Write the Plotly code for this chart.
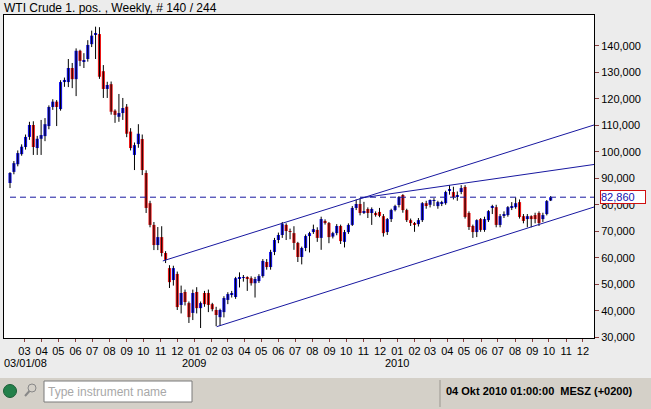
import pandas as pd
import plotly.graph_objects as go

# ---------------- data ----------------
WEEKS = pd.date_range("2008-02-04", periods=140, freq="7D")

OHLC_ROWS = [
    (88.2, 92.3, 86.3, 92.0), (92.4, 96.5, 91.5, 95.7), (95.3, 100.5, 94.5, 99.5), (99.1, 102.8, 98.5, 101.9),
    (101.8, 106.5, 100.8, 105.6), (105.6, 111.3, 104.5, 110.1), (110.1, 111.5, 98.8, 101.8), (101.4, 106.0, 98.8, 104.9),
    (104.9, 112.0, 98.8, 106.3), (105.9, 112.7, 104.0, 110.4), (109.7, 117.5, 108.5, 116.9), (116.9, 119.8, 115.8, 118.9),
    (118.9, 119.5, 109.7, 116.9), (116.1, 127.0, 115.5, 126.3), (126.3, 128.0, 124.5, 127.1), (126.3, 135.0, 124.4, 131.6),
    (131.6, 133.5, 124.0, 127.4), (127.4, 139.0, 121.0, 138.1), (138.1, 138.5, 132.3, 134.3), (134.2, 137.2, 131.6, 134.5),
    (135.0, 142.1, 134.0, 140.3), (140.6, 145.7, 139.5, 143.8), (144.2, 147.2, 135.0, 144.6), (144.4, 147.0, 127.5, 128.3),
    (130.4, 132.7, 120.3, 123.7), (123.7, 126.4, 120.3, 125.2), (125.5, 126.5, 114.0, 115.1), (115.5, 116.0, 110.9, 113.9),
    (113.2, 121.8, 111.3, 114.6), (114.6, 120.3, 112.0, 116.5), (117.0, 118.0, 105.5, 106.8), (107.6, 108.9, 100.5, 101.4),
    (98.8, 103.5, 93.1, 102.5), (102.9, 110.4, 101.5, 106.8), (104.8, 106.5, 91.2, 93.1), (92.0, 93.0, 76.9, 78.8),
    (80.6, 81.5, 71.5, 72.4), (72.4, 73.5, 62.9, 64.8), (64.8, 71.6, 62.9, 67.8), (67.8, 71.9, 60.5, 61.8),
    (61.8, 62.5, 58.0, 59.2), (56.1, 57.2, 48.6, 50.8), (51.6, 57.0, 49.5, 56.1), (53.9, 54.8, 40.3, 41.4),
    (42.2, 49.5, 39.0, 46.7), (47.1, 48.0, 42.0, 43.3), (42.9, 43.5, 35.4, 37.6), (39.2, 48.0, 36.5, 46.7),
    (47.1, 48.9, 39.0, 41.0), (41.0, 43.5, 33.5, 42.9), (46.7, 47.5, 41.5, 42.5), (46.7, 48.0, 39.5, 42.2),
    (42.5, 43.0, 39.8, 40.6), (40.3, 41.5, 34.2, 38.4), (37.6, 40.8, 34.3, 40.3), (39.5, 45.5, 37.5, 44.8),
    (44.1, 47.0, 42.5, 46.3), (46.3, 47.5, 45.0, 46.6), (45.2, 52.8, 44.5, 52.3), (52.3, 54.5, 48.8, 52.6),
    (52.4, 53.5, 51.0, 52.7), (52.5, 53.0, 47.5, 52.2), (52.3, 53.0, 49.5, 50.4), (50.4, 52.8, 45.0, 52.0),
    (51.2, 53.8, 50.5, 53.1), (53.1, 59.5, 52.5, 58.8), (58.4, 59.5, 55.5, 56.5), (56.5, 63.0, 55.5, 62.2),
    (62.2, 67.5, 61.0, 66.7), (66.7, 69.5, 65.5, 68.6), (68.6, 73.5, 67.5, 72.7), (72.4, 73.0, 66.7, 70.1),
    (70.1, 71.0, 67.0, 69.8), (69.3, 71.9, 63.0, 65.6), (65.6, 66.0, 58.4, 60.3), (60.3, 64.2, 57.5, 63.7),
    (63.7, 68.8, 62.5, 68.2), (68.2, 69.8, 62.0, 69.3), (69.7, 72.5, 69.0, 70.8), (70.5, 71.5, 66.0, 67.5),
    (67.5, 75.5, 63.0, 74.6), (73.9, 74.5, 72.5, 73.1), (73.1, 73.5, 65.5, 67.8), (68.0, 69.8, 67.3, 69.3),
    (69.3, 72.7, 68.5, 72.0), (72.0, 72.5, 65.2, 66.3), (66.0, 70.5, 63.9, 69.7), (69.7, 73.0, 69.0, 72.4),
    (72.4, 79.5, 72.0, 78.8), (78.8, 82.0, 78.0, 80.3), (80.3, 82.5, 76.0, 76.9), (77.2, 81.1, 76.5, 77.5),
    (78.4, 79.0, 75.0, 76.9), (76.9, 79.0, 72.4, 78.4), (76.9, 77.5, 75.5, 76.1), (77.3, 78.8, 75.3, 75.8),
    (75.7, 76.5, 68.0, 69.3), (69.7, 75.0, 68.6, 74.6), (74.6, 78.5, 73.5, 78.0), (78.0, 80.0, 77.5, 79.5),
    (79.9, 83.3, 79.0, 82.9), (83.7, 84.0, 77.0, 78.0), (78.0, 78.5, 73.5, 74.2), (74.2, 74.8, 72.0, 73.1),
    (73.1, 73.5, 69.8, 72.4), (72.7, 75.0, 71.8, 74.2), (74.2, 81.0, 73.5, 80.6), (80.6, 81.5, 78.5, 79.9),
    (80.0, 82.0, 79.0, 81.8), (81.5, 82.5, 79.5, 81.7), (79.5, 81.5, 78.5, 81.0), (80.5, 81.5, 79.5, 80.7),
    (80.6, 85.3, 80.0, 84.8), (85.5, 87.4, 83.8, 85.7), (84.8, 86.8, 82.0, 82.9), (83.3, 85.0, 81.5, 83.5),
    (84.8, 87.4, 84.0, 86.3), (86.7, 87.4, 74.8, 75.4), (76.9, 77.5, 70.5, 71.6), (72.0, 72.5, 67.5, 69.7),
    (69.7, 74.5, 67.8, 74.2), (74.6, 75.0, 69.8, 70.5), (70.5, 75.5, 69.8, 74.6), (74.2, 78.0, 73.5, 77.6),
    (79.0, 80.0, 76.5, 79.3), (79.1, 80.0, 71.5, 72.4), (72.4, 76.5, 71.5, 75.7), (76.0, 77.5, 75.0, 76.3),
    (76.1, 79.5, 75.5, 79.1), (78.8, 81.0, 78.0, 79.5), (79.1, 82.8, 78.5, 80.6), (81.0, 82.0, 74.8, 75.4),
    (75.7, 76.5, 73.0, 73.9), (74.6, 76.5, 71.5, 75.7), (75.7, 76.0, 71.5, 74.6), (76.1, 77.0, 73.0, 74.6),
    (76.9, 77.5, 72.0, 73.1), (74.6, 77.0, 73.5, 76.1), (76.5, 81.8, 76.0, 81.4), (81.6, 83.3, 81.4, 82.86),
]
OPEN = [r[0] for r in OHLC_ROWS]
HIGH = [r[1] for r in OHLC_ROWS]
LOW = [r[2] for r in OHLC_ROWS]
CLOSE = [r[3] for r in OHLC_ROWS]

LAST_PRICE = 82.86
Y_TICKS = [30, 40, 50, 60, 70, 80, 90, 100, 110, 120, 130, 140]
MONTH_TICKS = pd.date_range("2008-03-01", "2010-12-01", freq="MS")
MONTH_LABELS = [d.strftime("%m") for d in MONTH_TICKS]
YEAR_LABELS = [("2009-01-01", "2009"), ("2010-01-01", "2010")]

# trend lines (start date, start price, end date, end price)
UPPER_LINE = ("2008-11-05", 58.8, "2010-12-21", 110.1)
MIDDLE_LINE = ("2009-10-26", 82.5, "2010-12-21", 95.2)
LOWER_LINE = ("2009-02-10", 34.0, "2010-12-21", 79.15)

X_RANGE = ["2008-01-24 05:00", "2010-12-21"]
Y_RANGE = [29.73, 151.6]

# ---------------- figure ----------------
UP_COL = "rgb(18,18,235)"
DN_COL = "rgb(235,22,22)"
LINE_COL = "rgb(24,24,160)"
FONT = "Liberation Sans"

fig = go.Figure()

wx, wy = [], []
for d, h, l in zip(WEEKS, HIGH, LOW):
    wx += [d, d, None]
    wy += [l, h, None]
fig.add_trace(go.Scatter(x=wx, y=wy, mode="lines", line=dict(color="black", width=1),
                         hoverinfo="skip", showlegend=False))

bar_w = 7 * 86400000 * 0.8
for up, col in [(True, UP_COL), (False, DN_COL)]:
    xs, bs, hs = [], [], []
    for d, o, c in zip(WEEKS, OPEN, CLOSE):
        if (c >= o) == up:
            xs.append(d)
            lo = min(o, c)
            hgt = max(abs(c - o), 0.3)
            bs.append(lo)
            hs.append(hgt)
    fig.add_trace(go.Bar(x=xs, y=hs, base=bs, width=bar_w, marker=dict(color=col, line=dict(width=0)),
                         showlegend=False, hoverinfo="skip"))

shapes = []
for (x0, y0, x1, y1) in [UPPER_LINE, MIDDLE_LINE, LOWER_LINE]:
    shapes.append(dict(type="line", xref="x", yref="y", x0=x0, y0=y0, x1=x1, y1=y1,
                       line=dict(color=LINE_COL, width=1)))
shapes.append(dict(type="line", xref="x", yref="y", x0=WEEKS[0], x1=X_RANGE[1], y0=LAST_PRICE, y1=LAST_PRICE,
                   line=dict(color=LINE_COL, width=1, dash="6px,4px")))


def px_x(p):
    return (p - 4) / 590.0


def px_y(p):
    return (338 - p) / 323.0


# status bar
shapes.append(dict(type="rect", xref="paper", yref="paper", x0=px_x(0), x1=px_x(651), y0=px_y(409), y1=px_y(378),
                   fillcolor="#D4D0C8", line=dict(width=0), layer="below"))
shapes.append(dict(type="rect", xref="paper", yref="paper", x0=px_x(44), x1=px_x(192), y0=px_y(402), y1=px_y(381),
                   fillcolor="white", line=dict(color="#7A7A7A", width=1)))
shapes.append(dict(type="line", xref="paper", yref="paper", x0=px_x(440), x1=px_x(440), y0=px_y(407), y1=px_y(380),
                   line=dict(color="#9A9790", width=1)))
shapes.append(dict(type="circle", xref="paper", yref="paper", x0=px_x(3.5), x1=px_x(16.5), y0=px_y(397.5), y1=px_y(384.5),
                   fillcolor="#23804A", line=dict(color="#1B5E36", width=1)))
shapes.append(dict(type="circle", xref="paper", yref="paper", x0=px_x(28), x1=px_x(36), y0=px_y(392), y1=px_y(384),
                   fillcolor="rgba(0,0,0,0)", line=dict(color="#888888", width=1)))
shapes.append(dict(type="line", xref="paper", yref="paper", x0=px_x(29.5), x1=px_x(25), y0=px_y(391), y1=px_y(396),
                   line=dict(color="#888888", width=2)))

annotations = [
    dict(text="WTI Crude 1. pos. , Weekly, # 140 / 244", xref="paper", yref="paper", x=px_x(2), y=px_y(8),
         xanchor="left", yanchor="middle", showarrow=False, font=dict(family=FONT, size=12, color="black")),
    dict(text="03/01/08", xref="paper", yref="paper", x=px_x(2), y=px_y(363),
         xanchor="left", yanchor="middle", showarrow=False, font=dict(family=FONT, size=11, color="black")),
    dict(text="{:.3f}".format(LAST_PRICE).replace(".", ","), xref="paper", yref="y", x=px_x(600), y=LAST_PRICE,
         xanchor="left", yanchor="middle", showarrow=False, font=dict(family=FONT, size=11, color="#1010B0"),
         bordercolor="#D01010", borderwidth=1, bgcolor="white", borderpad=0, width=44, height=12, align="left"),
    dict(text="Type instrument name", xref="paper", yref="paper", x=px_x(46), y=px_y(391.5),
         xanchor="left", yanchor="middle", showarrow=False, font=dict(family=FONT, size=12, color="#A8A8A8")),
    dict(text="<b>04 Okt 2010 01:00:00  MESZ (+0200)</b>", xref="paper", yref="paper", x=px_x(444), y=px_y(391),
         xanchor="left", yanchor="middle", showarrow=False, font=dict(family=FONT, size=11, color="black")),
]
for d, t in YEAR_LABELS:
    annotations.append(dict(text=t, xref="x", yref="paper", x=d, y=px_y(363), xanchor="center", yanchor="middle",
                            showarrow=False, font=dict(family=FONT, size=11, color="black")))

fig.update_layout(
    width=651, height=409,
    margin=dict(l=4, r=57, t=15, b=71, pad=0),
    paper_bgcolor="#ECECEC", plot_bgcolor="white",
    separators=",.",
    barmode="overlay",
    showlegend=False,
    shapes=shapes,
    annotations=annotations,
    font=dict(family=FONT, size=11, color="black"),
    xaxis=dict(type="date", range=X_RANGE, tickvals=list(MONTH_TICKS), ticktext=MONTH_LABELS,
               ticks="outside", ticklen=3, tickcolor="#8A4040", showline=True, linecolor="black",
               linewidth=1, mirror=True, showgrid=False, zeroline=False,
               tickfont=dict(family=FONT, size=11, color="black")),
    yaxis=dict(side="right", range=Y_RANGE, tickvals=Y_TICKS, tickformat=".3f",
               ticks="outside", ticklen=4, tickcolor="#8A4040", showline=True, linecolor="black",
               linewidth=1, mirror=True, showgrid=False, zeroline=False,
               tickfont=dict(family=FONT, size=11, color="black")),
)

fig.write_html("out.html")
